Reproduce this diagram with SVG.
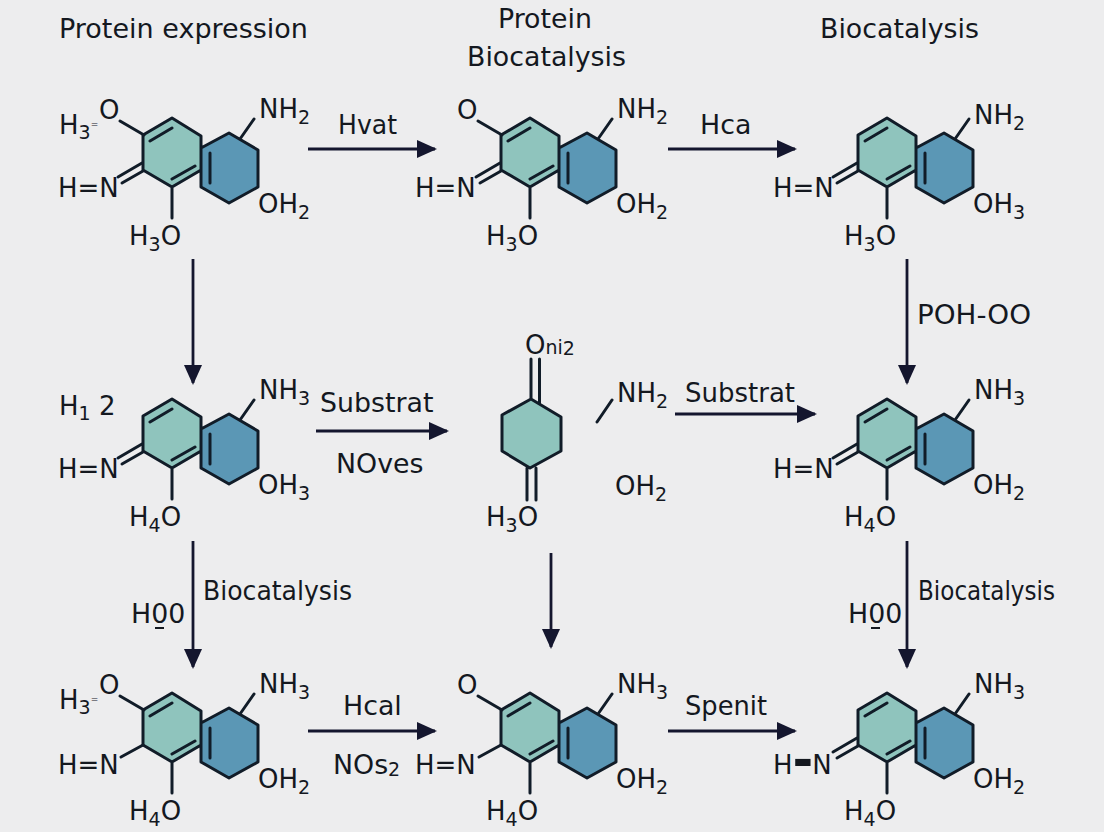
<svg xmlns="http://www.w3.org/2000/svg" width="1104" height="832" viewBox="0 0 1104 832">
<style>
text{font-family:"DejaVu Sans","Liberation Sans",sans-serif;fill:#14181f}
.l{font-size:26.800px}
.a{font-size:26px}
.s{font-size:19px}
.t{font-size:9px}
.b{fill:none;stroke:#111c28;stroke-width:3;stroke-linejoin:round;stroke-linecap:round}
.g{fill:#8fc4bd}
.u{fill:#5b97b5}
.c{fill:none;stroke:#14162e;stroke-width:2.800}
</style>
<defs>
<marker id="h" markerUnits="userSpaceOnUse" markerWidth="22" markerHeight="20" refX="18" refY="9" orient="auto"><path d="M0 0L20 9L0 18Z" fill="#14162e"/></marker>
<g id="m">
<path class="g" d="M172 118L201 136V170L172 187L143 170V135Z"/>
<path class="u" d="M229 133L258 150V187L229 203L201 187V148Z"/>
<path class="b" d="M201 170L172 187L143 170V135L172 118L201 136V187M229 133L258 150V187L229 203L201 187V148ZM150 141L172 128M172 179L195 166M210 153V183M240 139L254 119M172 187V218"/>
</g>
<path id="od" class="b" d="M120 121L144 135"/>
<path id="nd" class="b" d="M118 177L142 163M122 183L143 171"/>
<path id="ns" class="b" d="M121 182L143 170"/>
</defs>
<rect width="1104" height="832" fill="#ededee"/>
<g id="connectors">
<path class="c" marker-end="url(#h)" d="M308 149H435"/>
<path class="c" marker-end="url(#h)" d="M668 149H795"/>
<path class="c" marker-end="url(#h)" d="M193 259V383"/>
<path class="c" marker-end="url(#h)" d="M907 259V383"/>
<path class="c" marker-end="url(#h)" d="M316 431H447"/>
<path class="c" marker-end="url(#h)" d="M675 414H815"/>
<path class="c" marker-end="url(#h)" d="M193 541V667"/>
<path class="c" marker-end="url(#h)" d="M551 553V647"/>
<path class="c" marker-end="url(#h)" d="M907 541V667"/>
<path class="c" marker-end="url(#h)" d="M308 731H435"/>
<path class="c" marker-end="url(#h)" d="M668 731H795"/>
</g>
<g id="labels">
<text class="l" x="59" y="38" textLength="249" lengthAdjust="spacingAndGlyphs">Protein expression</text>
<text class="l" x="498" y="28">Protein</text>
<text class="l" x="467" y="66">Biocatalysis</text>
<text class="l" x="820" y="38">Biocatalysis</text>
<text class="l" x="338" y="134" textLength="59" lengthAdjust="spacingAndGlyphs">Hvat</text>
<text class="l" x="700" y="134">Hca</text>
<text class="l" x="320" y="412">Substrat</text>
<text class="l" x="336" y="473">NOves</text>
<text class="l" x="685" y="402" textLength="110" lengthAdjust="spacingAndGlyphs">Substrat</text>
<text class="l" x="917" y="324" textLength="114" lengthAdjust="spacingAndGlyphs">POH-OO</text>
<text class="l" x="203" y="600" textLength="149" lengthAdjust="spacingAndGlyphs">Biocatalysis</text>
<text class="l" x="131" y="623">H00</text>
<path d="M155 628H164" stroke="#14181f" stroke-width="2"/>
<text class="l" x="918" y="600" textLength="137" lengthAdjust="spacingAndGlyphs">Biocatalysis</text>
<text class="l" x="848" y="623">H00</text>
<path d="M871 628H880" stroke="#14181f" stroke-width="2"/>
<text class="l" x="343" y="715">Hcal</text>
<text class="l" x="333" y="774">NOs<tspan class="s" dy="2">2</tspan></text>
<text class="l" x="685" y="715" textLength="82" lengthAdjust="spacingAndGlyphs">Spenit</text>
</g>
<g id="n1"><use href="#m"/><use href="#od"/><use href="#nd"/>
<text class="a" x="59" y="134">H<tspan class="s" dy="5">3</tspan><tspan class="t" dy="-12">=</tspan></text><text class="a" x="99" y="119">O</text>
<text class="a" x="259" y="118">NH<tspan class="s" dy="6">2</tspan></text>
<text class="a" x="58" y="197">H=N</text>
<text class="a" x="258" y="213">OH<tspan class="s" dy="6">2</tspan></text>
<text class="a" x="129" y="245">H<tspan class="s" dy="6">3</tspan><tspan dy="-6">O</tspan></text></g>
<g id="n2" transform="translate(358 0)"><use href="#m"/><use href="#od"/><use href="#nd"/>
<text class="a" x="99" y="119">O</text>
<text class="a" x="259" y="118">NH<tspan class="s" dy="6">2</tspan></text>
<text class="a" x="57" y="197">H=N</text>
<text class="a" x="258" y="213">OH<tspan class="s" dy="6">2</tspan></text>
<text class="a" x="128" y="245">H<tspan class="s" dy="6">3</tspan><tspan dy="-6">O</tspan></text></g>
<g id="n3" transform="translate(715 0)"><use href="#m"/><use href="#nd"/>
<text class="a" x="259" y="124">NH<tspan class="s" dy="6">2</tspan></text>
<text class="a" x="58" y="197">H=N</text>
<text class="a" x="258" y="213">OH<tspan class="s" dy="6">3</tspan></text>
<text class="a" x="129" y="245">H<tspan class="s" dy="6">3</tspan><tspan dy="-6">O</tspan></text></g>
<g id="n4" transform="translate(0 281)"><use href="#m"/><use href="#nd"/>
<text class="a" x="59" y="134">H<tspan class="s" dy="5">1</tspan><tspan dy="-5"> 2</tspan></text>
<text class="a" x="259" y="118">NH<tspan class="s" dy="6">3</tspan></text>
<text class="a" x="58" y="197">H=N</text>
<text class="a" x="258" y="213">OH<tspan class="s" dy="6">3</tspan></text>
<text class="a" x="129" y="245">H<tspan class="s" dy="6">4</tspan><tspan dy="-6">O</tspan></text></g>
<g id="n5">
<path class="g" d="M531 399L561 417V451L530 468L502 451V415Z"/>
<path class="b" d="M531 399L561 417V451L530 468L502 451V415ZM531 359V399M539.500 359V404M527 468V500M536 468V500M597 422L612 400"/>
<text class="a" x="525" y="354">O<tspan class="s">ni</tspan><tspan class="s" dy="1">2</tspan></text>
<text class="a" x="617" y="402">NH<tspan class="s" dy="6">2</tspan></text>
<text class="a" x="615" y="495">OH<tspan class="s" dy="6">2</tspan></text>
<text class="a" x="486" y="526">H<tspan class="s" dy="6">3</tspan><tspan dy="-6">O</tspan></text></g>
<g id="n6" transform="translate(715 281)"><use href="#m"/><use href="#nd"/>
<text class="a" x="259" y="118">NH<tspan class="s" dy="6">3</tspan></text>
<text class="a" x="58" y="197">H=N</text>
<text class="a" x="258" y="213">OH<tspan class="s" dy="6">2</tspan></text>
<text class="a" x="129" y="245">H<tspan class="s" dy="6">4</tspan><tspan dy="-6">O</tspan></text></g>
<g id="n7" transform="translate(0 575)"><use href="#m"/><use href="#od"/><use href="#ns"/>
<text class="a" x="59" y="134">H<tspan class="s" dy="5">3</tspan><tspan class="t" dy="-12">=</tspan></text><text class="a" x="99" y="119">O</text>
<text class="a" x="259" y="118">NH<tspan class="s" dy="6">3</tspan></text>
<text class="a" x="58" y="199">H=N</text>
<text class="a" x="258" y="213">OH<tspan class="s" dy="6">2</tspan></text>
<text class="a" x="129" y="245">H<tspan class="s" dy="6">4</tspan><tspan dy="-6">O</tspan></text></g>
<g id="n8" transform="translate(358 575)"><use href="#m"/><use href="#od"/><use href="#ns"/>
<text class="a" x="99" y="119">O</text>
<text class="a" x="259" y="118">NH<tspan class="s" dy="6">3</tspan></text>
<text class="a" x="57" y="199">H=N</text>
<text class="a" x="258" y="213">OH<tspan class="s" dy="6">2</tspan></text>
<text class="a" x="128" y="245">H<tspan class="s" dy="6">4</tspan><tspan dy="-6">O</tspan></text></g>
<g id="n9" transform="translate(715 575)"><use href="#m"/><use href="#nd"/>
<text class="a" x="58" y="199">H<tspan font-weight="700" font-size="50" dy="3">-</tspan><tspan dx="-1" dy="-3">N</tspan></text>
<text class="a" x="259" y="118">NH<tspan class="s" dy="6">3</tspan></text>
<text class="a" x="258" y="213">OH<tspan class="s" dy="6">2</tspan></text>
<text class="a" x="129" y="245">H<tspan class="s" dy="6">4</tspan><tspan dy="-6">O</tspan></text></g>
</svg>
